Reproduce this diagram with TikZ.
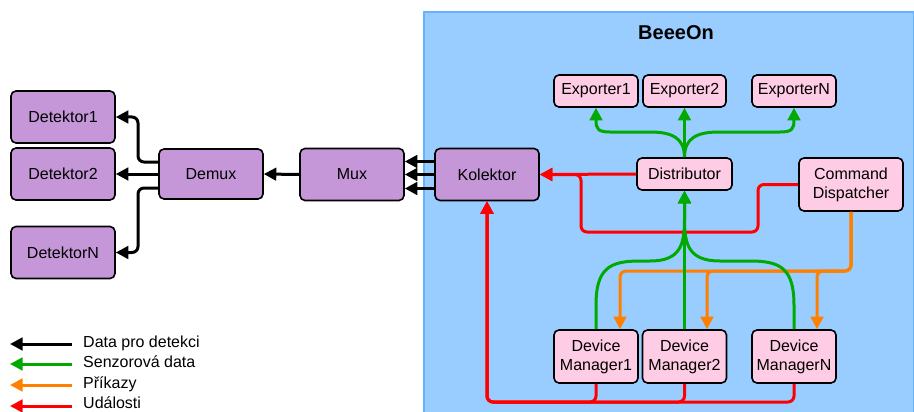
\documentclass[tikz,border=0pt]{standalone}
\usepackage{fontspec}
\setmainfont{Liberation Sans}
\usetikzlibrary{arrows.meta,calc}
\definecolor{purp}{HTML}{C597D9}
\definecolor{pinkc}{HTML}{FFCCE6}
\definecolor{contblue}{HTML}{99CCFF}
\definecolor{bordblue}{HTML}{66B2FF}
\definecolor{grn}{HTML}{00AA00}
\definecolor{org}{HTML}{FF8000}
\definecolor{rd}{HTML}{FF0000}
\tikzset{
  box/.style={draw=black, line width=1.6pt, rounded corners=5pt, align=center, inner sep=0pt},
  purplebox/.style={box, fill=purp, minimum width=104pt, minimum height=52pt},
  pinkbox/.style={box, fill=pinkc},
  conn/.style={line width=3pt, rounded corners=6pt, -{Triangle[length=12.5pt,width=12.5pt]}},
  blk/.style={conn, draw=black},
  grline/.style={conn, draw=grn},
  orline/.style={conn, draw=org},
  rdline/.style={conn, draw=rd},
  legtext/.style={anchor=base west, inner sep=0pt}
}
\begin{document}
\begin{tikzpicture}[x=1pt, y=-1pt, font=\fontsize{16}{19}\selectfont]
\useasboundingbox (0,0) rectangle (914,412);
% container
\draw[draw=bordblue, fill=contblue, line width=1.5pt] (424,12) rectangle (913.5,440);
\node[font=\fontsize{20}{24}\selectfont\bfseries] (title) at (676,33) {BeeeOn};

% left nodes
\node[purplebox] (det1) at (63,117) {Detektor1};
\node[purplebox] (det2) at (63,174) {Detektor2};
\node[purplebox] (detN) at (63,252.5) {DetektorN};
\node[purplebox, minimum height=50pt] (demux) at (211,174) {Demux};
\node[purplebox] (mux) at (352,174.5) {Mux};
\node[purplebox] (kol) at (487,174.5) {Kolektor};

% pink nodes
\node[pinkbox, minimum width=84pt, minimum height=32pt] (exp1) at (596,91) {Exporter1};
\node[pinkbox, minimum width=83pt, minimum height=32pt] (exp2) at (684.5,91) {Exporter2};
\node[pinkbox, minimum width=84pt, minimum height=32pt] (expN) at (794,91) {ExporterN};
\node[pinkbox, minimum width=95pt, minimum height=32pt] (dist) at (684.5,174) {Distributor};
\node[pinkbox, minimum width=104pt, minimum height=53pt] (cd) at (851,184.5) {Command\\Dispatcher};
\node[pinkbox, minimum width=84pt, minimum height=53pt] (dm1) at (596,356.5) {Device\\Manager1};
\node[pinkbox, minimum width=84pt, minimum height=53pt] (dm2) at (684.5,356.5) {Device\\Manager2};
\node[pinkbox, minimum width=84pt, minimum height=53pt] (dmN) at (794,356.5) {Device\\ManagerN};

% black connectors
\draw[blk] ($(demux.west)+(0,-12)$) -- (138,162) -- (138,117) -- (det1.east);
\draw[blk] (demux.west) -- (det2.east);
\draw[blk] ($(demux.west)+(0,14)$) -- (138,188) -- (138,252.5) -- (detN.east);
\draw[blk] (mux.west) -- (demux.east);
\draw[blk] ($(kol.west)+(0,-13)$) -- ($(mux.east)+(0,-13)$);
\draw[blk] (kol.west) -- (mux.east);
\draw[blk] ($(kol.west)+(0,14)$) -- ($(mux.east)+(0,14)$);

% red
\draw[rdline] (dist.west) -- (kol.east);
\draw[rdline] (cd.west) -- (758,184.5) -- (758,232) -- (581,232) -- (581,174.5) -- (kol.east);
\draw[rdline] (dm1.south) -- (596,402) -- (487,402) -- (kol.south);
\draw[rdline] (dm2.south) -- (684.5,402) -- (487,402) -- (kol.south);
\draw[rdline] (dmN.south) -- (794,402) -- (487,402) -- (kol.south);

% orange: command dispatcher to device managers
\draw[orline] (cd.south) -- (851,271) -- (620,271) -- ($(dm1.north)+(24,0)$);
\draw[orline] (cd.south) -- (851,271) -- (707,271) -- ($(dm2.north)+(22.5,0)$);
\draw[orline] (cd.south) -- (851,271) -- (817,271) -- ($(dmN.north)+(23,0)$);

% green: distributor to exporters
\draw[grline, rounded corners=0pt] (dist.north) .. controls (684.5,138) and (672,132) .. (650,132) -- (610,132) .. controls (598,132) and (596,129) .. (596,120) -- (exp1.south);
\draw[grline] (dist.north) -- (exp2.south);
\draw[grline, rounded corners=0pt] (dist.north) .. controls (684.5,138) and (697,132) .. (719,132) -- (780,132) .. controls (792,132) and (794,129) .. (794,120) -- (expN.south);

% green: device managers to distributor
\draw[grline, rounded corners=0pt] (dm1.north) -- (596,305) .. controls (596,268) and (610,261) .. (640,261) -- (650,261) .. controls (680,261) and (684.5,245) .. (684.5,220) -- (dist.south);
\draw[grline] (dm2.north) -- (dist.south);
\draw[grline, rounded corners=0pt] (dmN.north) -- (794,305) .. controls (794,268) and (780,261) .. (750,261) -- (720,261) .. controls (689,261) and (684.5,245) .. (684.5,220) -- (dist.south);

% legend
\coordinate (l1a) at (72,344); \coordinate (l1b) at (10,344);
\coordinate (l2a) at (72,364); \coordinate (l2b) at (10,364);
\coordinate (l3a) at (72,385); \coordinate (l3b) at (10,385);
\coordinate (l4a) at (72,406); \coordinate (l4b) at (10,406);
\draw[blk] (l1a) -- (l1b);
\draw[grline] (l2a) -- (l2b);
\draw[orline] (l3a) -- (l3b);
\draw[rdline] (l4a) -- (l4b);
\node[legtext] (t1) at (83,347) {Data pro detekci};
\node[legtext] (t2) at (83,367.5) {Senzorová data};
\node[legtext] (t3) at (83,388) {Příkazy};
\node[legtext] (t4) at (83,408) {Události};
\end{tikzpicture}
\end{document}
